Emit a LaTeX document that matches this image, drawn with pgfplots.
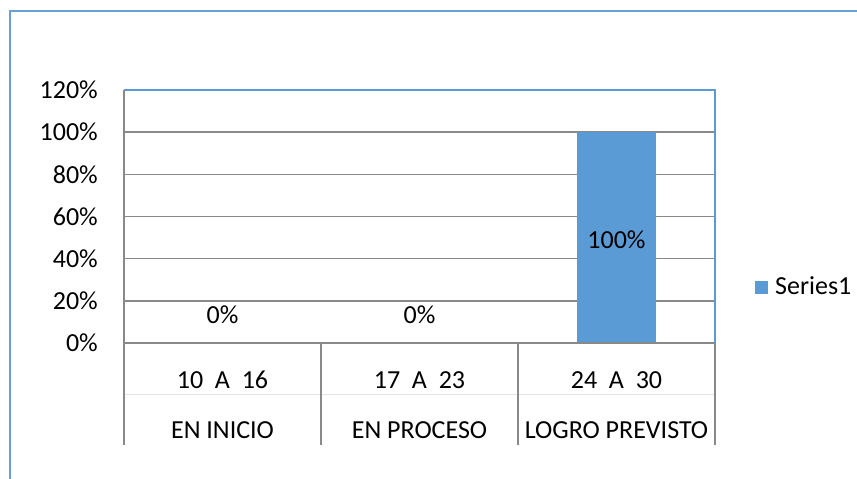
\documentclass[border=0pt]{standalone}
\usepackage{pgfplots}
\pgfplotsset{compat=1.18}
\usepackage{fontspec}
\setmainfont{Carlito}
\definecolor{barblue}{RGB}{91,155,213}
\definecolor{frameblue}{RGB}{104,160,216}
\definecolor{gridgray}{RGB}{137,137,137}
\begin{document}
\fontsize{26}{31}\selectfont
\begin{tikzpicture}
\path[use as bounding box] (0,0) rectangle (857pt,479pt);
\draw[frameblue, line width=2pt] (10pt,0pt) -- (10pt,468pt) -- (857pt,468pt);
\begin{axis}[at={(124pt,136pt)}, anchor=south west, scale only axis,
  width=591pt, height=253pt,
  ymin=0, ymax=1.2, xmin=-0.5, xmax=2.5,
  ytick={0,0.2,0.4,0.6,0.8,1,1.2},
  yticklabels={0\%,20\%,40\%,60\%,80\%,100\%,120\%},
  xtick=\empty,
  axis line style={draw=none},
  major tick length=0pt,
  yticklabel style={anchor=east, inner sep=0pt, xshift=-26pt},
  ymajorgrids, grid style={gridgray, line width=1.5pt},
  clip=false,
  legend style={at={(1.0677,0.2213)}, anchor=west, draw=none, fill=none, inner sep=0pt,
    column sep=7pt, nodes={inner sep=0pt}},
  legend image code/.code={\fill[barblue] (0pt,-6.5pt) rectangle (13pt,6.5pt);},
]
\addplot[ybar, fill=barblue, draw=none, bar width=0.4, bar shift=0pt] coordinates {(0,0) (1,0) (2,1)};
\addlegendentry{Series1}
\draw[gray!22, line width=0.8pt, yshift=-51pt] (axis cs:-0.5,0) -- (axis cs:2.5,0);
\draw[gridgray, line width=1.5pt] (axis cs:-0.5,0) -- (axis cs:2.5,0);
\draw[barblue, line width=1.8pt] (axis cs:-0.5,1.2) -- (axis cs:2.5,1.2) -- (axis cs:2.5,0);
\draw[gridgray, line width=1.5pt] (axis cs:-0.5,1.2) -- (axis cs:-0.5,0) -- ++(0pt,-102pt);
\draw[gridgray, line width=1.5pt] (axis cs:0.5,0) -- ++(0pt,-102pt);
\draw[gridgray, line width=1.5pt] (axis cs:1.5,0) -- ++(0pt,-102pt);
\draw[gridgray, line width=1.5pt] (axis cs:2.5,0) -- ++(0pt,-102pt);
\node at (axis cs:0,0) [yshift=-37pt] {10\ \ A\ \ 16};
\node at (axis cs:1,0) [yshift=-37pt] {17\ \ A\ \ 23};
\node at (axis cs:2,0) [yshift=-37pt] {24\ \ A\ \ 30};
\node at (axis cs:0,0) [yshift=-87pt] {EN INICIO};
\node at (axis cs:1,0) [yshift=-87pt] {EN PROCESO};
\node at (axis cs:2,0) [yshift=-87pt] {LOGRO PREVISTO};
\node at (axis cs:0,0) [yshift=28pt] {0\%};
\node at (axis cs:1,0) [yshift=28pt] {0\%};
\node at (axis cs:2,0.5) [yshift=-2pt] {100\%};
\end{axis}
\end{tikzpicture}
\end{document}
